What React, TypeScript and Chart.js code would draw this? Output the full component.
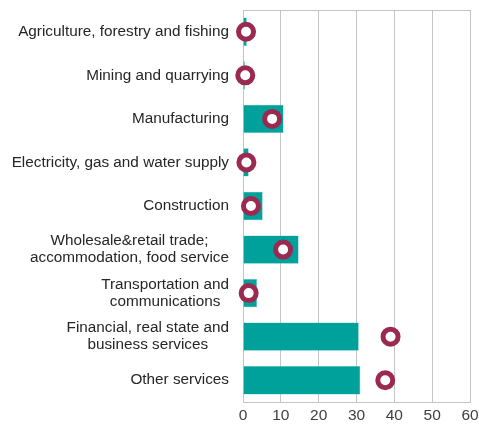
import React, { useEffect, useRef } from "react";
import { Chart, registerables } from "chart.js";

Chart.register(...registerables);

const categories: string[][] = [
  ["Agriculture, forestry and fishing"],
  ["Mining and quarrying"],
  ["Manufacturing"],
  ["Electricity, gas and water supply"],
  ["Construction"],
  ["Wholesale&retail trade;", "accommodation, food service"],
  ["Transportation and", "communications"],
  ["Financial, real state and", "business services"],
  ["Other services"],
];

const barValues = [1.0, 0.5, 10.7, 1.5, 5.2, 14.7, 3.7, 30.6, 31.0];
const circleValues = [0.8, 0.6, 7.7, 0.9, 2.1, 10.6, 1.5, 39.0, 37.6];
const xTicks = [0, 10, 20, 30, 40, 50, 60];

const FONT = "'Liberation Sans', Arial, sans-serif";

export default function App() {
  const ref = useRef<HTMLCanvasElement | null>(null);

  useEffect(() => {
    if (!ref.current) return;
    const labels = categories.map((c) => c.join(" "));

    const labelPlugin = {
      id: "labelPlugin",
      beforeDatasetsDraw(chart: any) {
        const { ctx, chartArea } = chart;
        ctx.save();
        ctx.strokeStyle = "#c4c4c4";
        ctx.lineWidth = 1;
        ctx.strokeRect(
          Math.round(chartArea.left) + 0.5,
          Math.round(chartArea.top) + 0.5,
          Math.round(chartArea.right - chartArea.left),
          Math.round(chartArea.bottom - chartArea.top)
        );
        ctx.restore();
      },
      afterDraw(chart: any) {
        const { ctx, chartArea } = chart;
        const yScale = chart.scales.y;
        ctx.save();
        ctx.font = `15.3px ${FONT}`;
        ctx.fillStyle = "#262626";
        ctx.textBaseline = "middle";
        ctx.textAlign = "center";
        const right = chartArea.left - 14;
        const lineH = 17;
        categories.forEach((lines, i) => {
          const cy = yScale.getPixelForValue(i);
          const maxW = Math.max(...lines.map((l) => ctx.measureText(l).width));
          const cx = right - maxW / 2;
          const startY = cy - ((lines.length - 1) * lineH) / 2;
          lines.forEach((l, j) => {
            ctx.fillText(l, cx, startY + j * lineH);
          });
        });
        ctx.restore();
      },
    };

    const chart = new Chart(ref.current, {
      type: "bar",
      data: {
        labels,
        datasets: [
          {
            type: "bar",
            data: barValues,
            backgroundColor: "#00a19b",
            borderColor: "#5cc6c2",
            borderWidth: 0.5,
            barPercentage: 1,
            categoryPercentage: 0.65,
            order: 2,
          },
          {
            type: "line",
            indexAxis: "y",
            data: circleValues,
            showLine: false,
            pointRadius: 7.5,
            pointHoverRadius: 7.5,
            pointBorderWidth: 5,
            pointBackgroundColor: "#ffffff",
            pointBorderColor: "#9a2a4f",
            borderColor: "#9a2a4f",
            clip: false,
            order: 1,
          } as any,
        ],
      },
      options: {
        indexAxis: "y",
        responsive: false,
        animation: false,
        layout: { autoPadding: false, padding: { left: 0, right: 9, top: 10, bottom: 0 } },
        plugins: {
          legend: { display: false },
          tooltip: { enabled: false },
        },
        scales: {
          x: {
            min: 0,
            max: 60,
            afterBuildTicks: (scale: any) => {
              scale.ticks = xTicks.map((v) => ({ value: v }));
            },
            afterFit: (scale: any) => {
              scale.height = 28;
              scale.paddingLeft = 0;
              scale.paddingRight = 0;
              scale.paddingTop = 0;
              scale.paddingBottom = 0;
            },
            grid: {
              color: "#c4c4c4",
              drawTicks: false,
              lineWidth: 1,
            },
            border: { display: true, color: "#c4c4c4" },
            ticks: {
              color: "#404040",
              font: { family: FONT, size: 15.5 },
              padding: 4,
              maxRotation: 0,
            },
          },
          y: {
            type: "category",
            afterFit: (scale: any) => {
              scale.width = 243;
              scale.paddingLeft = 0;
              scale.paddingRight = 0;
              scale.paddingTop = 0;
              scale.paddingBottom = 0;
            },
            grid: { display: false },
            border: { display: true, color: "#c4c4c4" },
            ticks: { display: false },
          },
        },
      },
      plugins: [labelPlugin],
    } as any);

    return () => chart.destroy();
  }, []);

  return (
    <div style={{ position: "fixed", left: 0, top: 0, width: 479, height: 430 }}>
      <canvas ref={ref} width={479} height={430} style={{ width: 479, height: 430 }} />
    </div>
  );
}
